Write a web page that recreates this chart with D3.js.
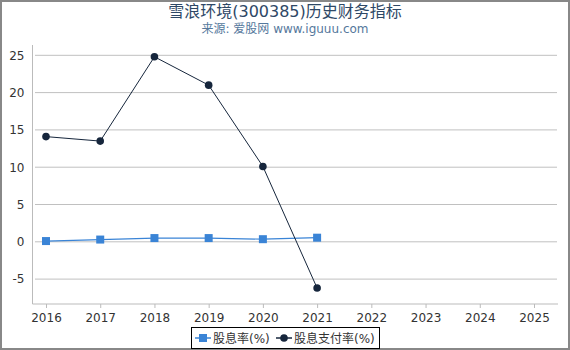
<!DOCTYPE html>
<html><head><meta charset="utf-8">
<script src="https://cdn.jsdelivr.net/npm/d3@7"></script>
<style>body{margin:0;background:#fff;}svg{display:block;font-family:"DejaVu Sans","Noto Sans CJK SC",sans-serif;}</style>
</head><body>
<svg id="c" width="570" height="350"></svg>
<script>
const years = ["2016","2017","2018","2019","2020","2021","2022","2023","2024","2025"];
const dividendYield = [0.1, 0.3, 0.5, 0.5, 0.35, 0.55];
const payoutRatio = [14.1, 13.5, 24.8, 21.0, 10.1, -6.2];
const yTicks = [-5, 0, 5, 10, 15, 20, 25];
const seriesNames = ["股息率(%)", "股息支付率(%)"];

(function(){
const svg = d3.select("#c");
const W = 570, H = 350;
svg.append("rect").attr("x",1).attr("y",1).attr("width",W-2).attr("height",H-2)
  .attr("fill","#fff").attr("stroke","#888").attr("stroke-width",2);

svg.append("text").attr("x",W/2).attr("y",17).attr("text-anchor","middle")
  .attr("font-size",16).attr("fill","#2e4866").text("雪浪环境(300385)历史财务指标");
svg.append("text").attr("x",W/2).attr("y",33).attr("text-anchor","middle")
  .attr("font-size",12).attr("fill","#55789c").text("来源: 爱股网 www.iguuu.com");

const x = d3.scalePoint().domain(years).range([46, 534]);
const y = d3.scaleLinear().domain([-5, 25]).range([279.1, 55.3]);
const pLeft = 32.5, pRight = 558, pTop = 45, pBottom = 304;

svg.append("g").selectAll("line").data(yTicks).join("line")
  .attr("x1", 35).attr("x2", 557).attr("y1", d=>y(d)).attr("y2", d=>y(d))
  .attr("stroke","#c0c0c0").attr("stroke-width",1);

const ya = svg.append("g").attr("transform",`translate(${pLeft},0)`)
  .call(d3.axisLeft(y).tickValues(yTicks).tickFormat(d=>String(d)).tickSize(0).tickPadding(8));
ya.select(".domain").remove();
ya.selectAll("text").attr("font-size",12).attr("fill","#333").attr("font-family","DejaVu Sans");
svg.append("line").attr("x1",pLeft).attr("x2",pLeft).attr("y1",pTop).attr("y2",pBottom)
  .attr("stroke","#bbb");

const xa = svg.append("g").attr("transform",`translate(0,${pBottom})`)
  .call(d3.axisBottom(x).tickSize(4).tickPadding(5));
xa.select(".domain").remove();
xa.selectAll("line").attr("stroke","#bbb");
xa.selectAll("text").attr("font-size",12).attr("fill","#333").attr("font-family","DejaVu Sans");
svg.append("line").attr("x1",pLeft).attr("x2",pRight).attr("y1",pBottom).attr("y2",pBottom)
  .attr("stroke","#bbb");

const line = d3.line().x((d,i)=>x(years[i])).y(d=>y(d));
const c1 = "#3a84d6", c2 = "#16263c";

svg.append("path").datum(dividendYield).attr("d",line).attr("fill","none")
  .attr("stroke",c1).attr("stroke-width",1.2);
svg.append("g").selectAll("rect").data(dividendYield).join("rect")
  .attr("x",(d,i)=>x(years[i])-4).attr("y",d=>y(d)-4).attr("width",8).attr("height",8)
  .attr("fill",c1);

svg.append("path").datum(payoutRatio).attr("d",line).attr("fill","none")
  .attr("stroke",c2).attr("stroke-width",1);
svg.append("g").selectAll("circle").data(payoutRatio).join("circle")
  .attr("cx",(d,i)=>x(years[i])).attr("cy",d=>y(d)).attr("r",3.8).attr("fill",c2);

const lg = svg.append("g");
lg.append("rect").attr("x",191.5).attr("y",327.5).attr("width",188).attr("height",21)
  .attr("fill","#fff").attr("stroke","#000").attr("stroke-width",1);
lg.append("line").attr("x1",195).attr("x2",211).attr("y1",338).attr("y2",338).attr("stroke",c1).attr("stroke-width",1.5);
lg.append("rect").attr("x",199).attr("y",334).attr("width",8).attr("height",8).attr("fill",c1);
lg.append("text").attr("x",213).attr("y",343).attr("font-size",12).attr("fill","#333").text(seriesNames[0]);
lg.append("line").attr("x1",276).attr("x2",292).attr("y1",338).attr("y2",338).attr("stroke",c2).attr("stroke-width",1.5);
lg.append("circle").attr("cx",284).attr("cy",338).attr("r",3.8).attr("fill",c2);
lg.append("text").attr("x",294).attr("y",343).attr("font-size",12).attr("fill","#333").text(seriesNames[1]);
})();
</script>
</body></html>
